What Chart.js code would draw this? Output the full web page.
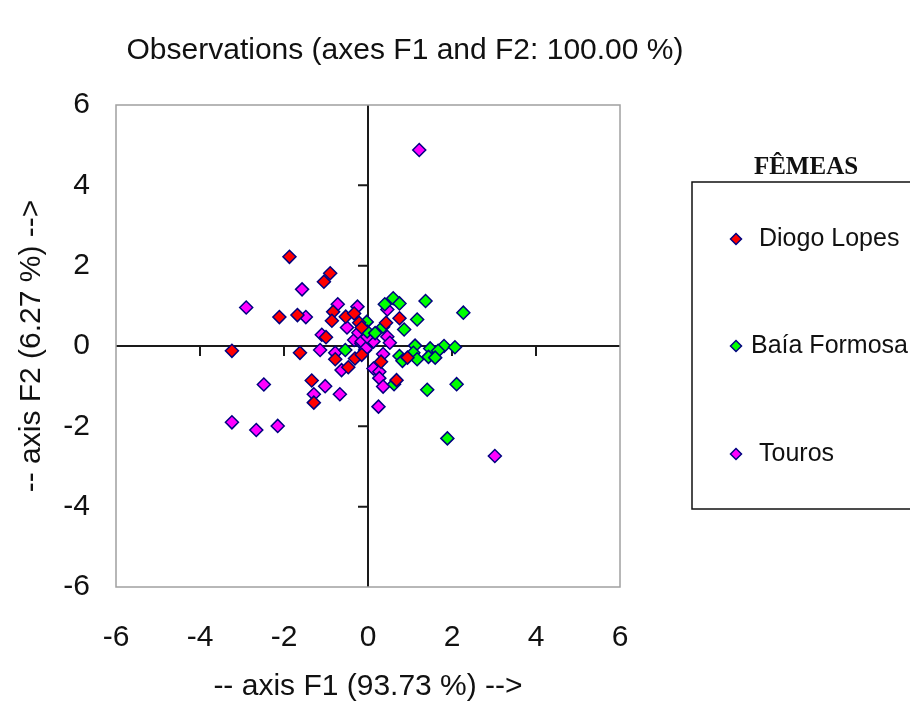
<!DOCTYPE html>
<html>
<head>
<meta charset="utf-8">
<script src="https://cdn.jsdelivr.net/npm/chart.js@4.4.1/dist/chart.umd.min.js"></script>
<style>
  html, body { margin: 0; padding: 0; background: #ffffff; }
  #wrap { width: 910px; height: 702px; }
</style>
</head>
<body>
<div id="wrap"><canvas id="c" width="910" height="702"></canvas></div>
<script>
// Texts
const chartTitle = 'Observations (axes F1 and F2: 100.00 %)';
const xTitle = '-- axis F1 (93.73 %) -->';
const yTitle = '-- axis F2 (6.27 %) -->';
const legendTitle = 'FÊMEAS';
const seriesNames = ['Diogo Lopes', 'Baía Formosa', 'Touros'];
const axisTicks = [-6, -4, -2, 0, 2, 4, 6];

// Diogo Lopes observations (F1, F2)
const diogoF1 = [-1.87, -0.90, -1.05, -2.11, -1.68, -0.83, -0.86, -0.53, -0.33, -1.00, -3.24, -1.62, -0.78,
                 -0.47, -0.31, -0.15, -1.34, -1.29, -0.21, -0.15, 0.75, 0.43, 0.94, 0.31, 0.68];
const diogoF2 = [2.22, 1.81, 1.60, 0.72, 0.77, 0.85, 0.63, 0.73, 0.81, 0.22, -0.12, -0.17, -0.33,
                 -0.53, -0.31, -0.22, -0.86, -1.41, 0.58, 0.46, 0.69, 0.58, -0.29, -0.39, -0.85];

// Baía Formosa observations (F1, F2)
const baiaF1 = [-0.54, -0.03, -0.02, 0.17, 0.60, 0.40, 0.75, 1.37, 2.27, 1.17, 0.86, 0.36, 1.12, 1.48,
                1.81, 2.07, 1.67, 1.08, 1.44, 1.60, 1.17, 0.75, 0.82, 0.62, 1.41, 2.11, 1.89];
const baiaF2 = [-0.10, 0.60, 0.36, 0.32, 1.19, 1.04, 1.06, 1.12, 0.83, 0.66, 0.41, 0.48, 0.01, -0.06,
                0.00, -0.03, -0.12, -0.17, -0.27, -0.29, -0.33, -0.25, -0.37, -0.95, -1.09, -0.95, -2.30];

// Touros observations (F1, F2)
const tourosF1 = [1.22, -1.57, -2.90, -1.48, -0.72, -0.25, -0.50, -1.10, -0.33, -0.23, -1.14, -0.78, -0.63,
                  -0.07, -0.16, -2.48, -1.02, -1.29, -0.67, -3.24, -2.66, -2.15, 0.46, 0.46, 0.52, 0.36,
                  0.13, 0.27, 0.27, 0.36, 0.25, 3.02, -0.15, 0.13, -0.05, -0.02];
const tourosF2 = [4.88, 1.41, 0.96, 0.72, 1.04, 0.98, 0.46, 0.28, 0.15, 0.33, -0.10, -0.17, -0.60,
                  -0.10, 0.07, -0.96, -1.00, -1.20, -1.20, -1.90, -2.09, -1.99, 0.91, 0.23, 0.08, -0.20,
                  -0.56, -0.64, -0.80, -1.01, -1.51, -2.74, 0.11, 0.11, -0.06, 0.23];

const seriesColors = ['#ff0000', '#00ff00', '#ff00ff'];
const markerEdge = '#000080';
const FONT = 'Liberation Sans, Arial, sans-serif';

const pairs = (xs, ys) => xs.map((x, i) => ({ x: x, y: ys[i] }));

const datasets = [
  pairs(diogoF1, diogoF2),
  pairs(baiaF1, baiaF2),
  pairs(tourosF1, tourosF2)
].map((data, i) => ({
  label: seriesNames[i],
  data: data,
  pointStyle: 'rectRot',
  pointRadius: 6.5,
  pointBackgroundColor: seriesColors[i],
  pointBorderColor: markerEdge,
  pointBorderWidth: 1.5,
  showLine: false
}));

// Frame of the plot area and small tick marks on the zero lines
const framePlugin = {
  id: 'frame',
  beforeDatasetsDraw(chart) {
    const { ctx, chartArea: a, scales: { x, y } } = chart;
    ctx.save();
    ctx.strokeStyle = '#a0a0a0';
    ctx.lineWidth = 1.5;
    ctx.strokeRect(a.left, a.top, a.right - a.left, a.bottom - a.top);
    const x0 = x.getPixelForValue(0);
    const y0 = y.getPixelForValue(0);
    ctx.strokeStyle = '#1a1a1a';
    ctx.lineWidth = 2;
    ctx.beginPath();
    axisTicks.forEach(v => {
      if (v === 0 || Math.abs(v) === 6) return;
      const px = x.getPixelForValue(v);
      ctx.moveTo(px, y0); ctx.lineTo(px, y0 + 10);
      const py = y.getPixelForValue(v);
      ctx.moveTo(x0 - 10, py); ctx.lineTo(x0, py);
    });
    ctx.stroke();
    ctx.restore();
  }
};

// Chart heading and the boxed legend on the right
const decorPlugin = {
  id: 'decor',
  afterDraw(chart) {
    const { ctx } = chart;
    ctx.save();
    ctx.fillStyle = '#111';
    ctx.font = '30px ' + FONT;
    ctx.textAlign = 'center';
    ctx.textBaseline = 'middle';
    ctx.fillText(chartTitle, 405, 51);

    // legend box
    ctx.strokeStyle = '#111';
    ctx.lineWidth = 1.5;
    ctx.strokeRect(692, 182, 240, 327);
    ctx.font = 'bold 25px Liberation Serif, Times New Roman, serif';
    ctx.fillText(legendTitle, 806, 168);

    const rows = [239, 346, 454];
    const textX = [759, 751, 759];
    ctx.font = '25px ' + FONT;
    ctx.textAlign = 'left';
    chart.data.datasets.forEach((ds, i) => {
      ctx.fillStyle = ds.pointBackgroundColor;
      ctx.strokeStyle = ds.pointBorderColor;
      ctx.lineWidth = 1.5;
      Chart.helpers.drawPoint(ctx, { pointStyle: 'rectRot', radius: 5.5, borderWidth: 1.5 }, 736, rows[i]);
      ctx.fillStyle = '#111';
      ctx.fillText(ds.label, textX[i], rows[i]);
    });
    ctx.restore();
  }
};

const tickFont = { family: FONT, size: 30 };

new Chart(document.getElementById('c'), {
  type: 'scatter',
  data: { datasets: datasets },
  plugins: [framePlugin, decorPlugin],
  options: {
    responsive: false,
    animation: false,
    devicePixelRatio: 1,
    layout: { padding: { top: 105, right: 290, left: 0, bottom: 0 } },
    plugins: { legend: { display: false }, tooltip: { enabled: false } },
    scales: {
      x: {
        type: 'linear', min: -6, max: 6,
        afterBuildTicks: s => { s.ticks = axisTicks.map(v => ({ value: v })); },
        ticks: { font: tickFont, color: '#111', padding: 33, maxRotation: 0, autoSkip: false,
                 callback: v => String(v) },
        grid: { drawTicks: false, lineWidth: 2,
                color: c => (c.tick && c.tick.value === 0) ? '#1a1a1a' : 'rgba(0,0,0,0)' },
        border: { display: false },
        title: { display: true, text: xTitle, color: '#111', padding: 0,
                 font: { family: FONT, size: 30, lineHeight: 1 } },
        afterFit: s => { s.height = 115; }
      },
      y: {
        type: 'linear', min: -6, max: 6,
        afterBuildTicks: s => { s.ticks = axisTicks.map(v => ({ value: v })); },
        ticks: { font: tickFont, color: '#111', padding: 26, autoSkip: false,
                 callback: v => String(v) },
        grid: { drawTicks: false, lineWidth: 2,
                color: c => (c.tick && c.tick.value === 0) ? '#1a1a1a' : 'rgba(0,0,0,0)' },
        border: { display: false },
        title: { display: true, text: yTitle, color: '#111', padding: { top: 17, bottom: 0 },
                 font: { family: FONT, size: 30, lineHeight: 1 } },
        afterFit: s => { s.width = 116; }
      }
    }
  }
});
</script>
</body>
</html>
